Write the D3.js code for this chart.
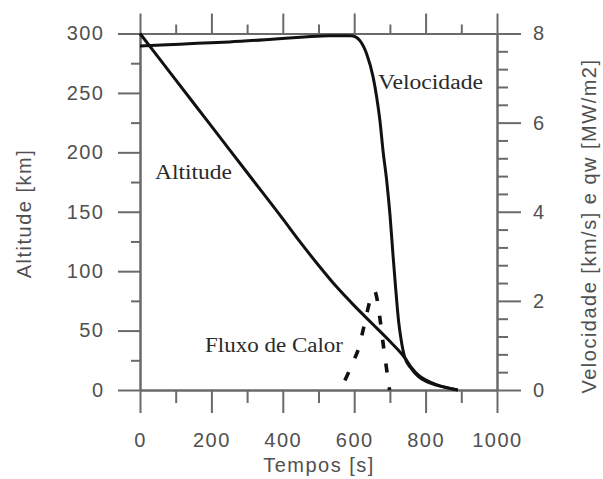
<!DOCTYPE html>
<html>
<head>
<meta charset="utf-8">
<script src="https://cdn.jsdelivr.net/npm/d3@7"></script>
<style>
  body { margin: 0; background: #fff; }
  svg { display: block; }
  .axis path, .axis line { stroke: #6a6a6a; stroke-width: 2; }
  .axis text { fill: #505050; font-family: "Liberation Sans", Arial, sans-serif; font-size: 20px; letter-spacing: 1.5px; }
  .title { fill: #505050; font-family: "Liberation Sans", Arial, sans-serif; font-size: 20px; letter-spacing: 1.5px; }
  .note { fill: #2a2a2a; font-family: "Liberation Serif", "Times New Roman", serif; font-size: 20px; }
</style>
</head>
<body>
<svg id="chart" width="603" height="479"></svg>
<script>
// Tick values
const timeTicks = [0, 200, 400, 600, 800, 1000];
const timeMinorTicks = [100, 300, 500, 700, 900];
const altitudeTicks = [0, 50, 100, 150, 200, 250, 300];
const altitudeMinorTicks = [25, 75, 125, 175, 225, 275];
const speedTicks = [0, 2, 4, 6, 8];
const speedMinorTicks = [0.4, 0.8, 1.2, 1.6, 2.4, 2.8, 3.2, 3.6, 4.4, 4.8, 5.2, 5.6, 6.4, 6.8, 7.2, 7.6];

// Altitude [km] over time [s]
const altitudeTime = [0, 100, 200, 300, 400, 450, 500, 550, 600, 650, 700, 742, 760, 780, 800, 830, 860, 890];
const altitudeKm   = [300, 261, 222, 183, 144, 124, 105, 87, 71, 56, 41, 27, 19, 12.5, 8.5, 4.5, 2, 0];

// Velocity [km/s] over time [s]
const speedTime = [0, 60, 160, 250, 370, 460, 530, 590, 605, 616, 635, 653, 663, 672, 681, 691, 700, 709, 716, 724, 732, 742, 760, 780, 800, 830, 860, 890];
const speedKms  = [7.72, 7.74, 7.78, 7.81, 7.87, 7.92, 7.95, 7.95, 7.92, 7.84, 7.54, 7.02, 6.57, 6.05, 5.35, 4.7, 3.95, 3.0, 2.3, 1.57, 1.1, 0.72, 0.48, 0.3, 0.2, 0.11, 0.05, 0];

// Heat flux qw [MW/m2] over time [s]
const heatTime = [560, 580, 595, 613, 628, 646, 657, 665, 672, 683, 693, 699];
const heatFlux = [0, 0.32, 0.6, 0.95, 1.45, 2.05, 2.22, 2.0, 1.61, 0.92, 0.34, 0];

const svg = d3.select("#chart");

const x = d3.scaleLinear().domain([0, 1000]).range([140, 497]);
const yAlt = d3.scaleLinear().domain([0, 300]).range([390, 33.5]);
const ySpeed = d3.scaleLinear().domain([0, 8]).range([390, 33.5]);

const noLabel = () => "";

function addAxis(axis, transform) {
  return svg.append("g").attr("class", "axis").attr("transform", transform).call(axis);
}

// bottom axis: long labelled ticks plus short minor ticks
addAxis(d3.axisBottom(x).tickValues(timeTicks).tickSize(23).tickSizeOuter(0).tickPadding(20).tickFormat(d3.format("d")), "translate(0,390)");
addAxis(d3.axisBottom(x).tickValues(timeMinorTicks).tickSize(13).tickSizeOuter(0).tickFormat(noLabel), "translate(0,390)");

// top axis: ticks only
addAxis(d3.axisTop(x).tickValues(timeTicks).tickSize(20).tickSizeOuter(0).tickFormat(noLabel), "translate(0,33.5)");
addAxis(d3.axisTop(x).tickValues(timeMinorTicks).tickSize(9).tickSizeOuter(0).tickFormat(noLabel), "translate(0,33.5)");

// left axis: altitude
addAxis(d3.axisLeft(yAlt).tickValues(altitudeTicks).tickSize(22).tickSizeOuter(0).tickPadding(13.5).tickFormat(d3.format("d")), "translate(140,0)");
addAxis(d3.axisLeft(yAlt).tickValues(altitudeMinorTicks).tickSize(9).tickSizeOuter(0).tickFormat(noLabel), "translate(140,0)");

// right axis: velocity and heat flux
addAxis(d3.axisRight(ySpeed).tickValues(speedTicks).tickSize(24).tickSizeOuter(0).tickPadding(12).tickFormat(d3.format("d")), "translate(497,0)");
addAxis(d3.axisRight(ySpeed).tickValues(speedMinorTicks).tickSize(11).tickSizeOuter(0).tickFormat(noLabel), "translate(497,0)");

// axis titles
svg.append("text").attr("class", "title")
  .attr("transform", "translate(31,213.5) rotate(-90)")
  .attr("text-anchor", "middle")
  .text("Altitude [km]");

svg.append("text").attr("class", "title")
  .attr("transform", "translate(596,226) rotate(-90)")
  .attr("text-anchor", "middle")
  .text("Velocidade [km/s] e qw [MW/m2]");

svg.append("text").attr("class", "title")
  .attr("x", 319).attr("y", 472)
  .attr("text-anchor", "middle")
  .text("Tempos [s]");

// curves
const altLine = d3.line().x((d, i) => x(altitudeTime[i])).y(d => yAlt(d)).curve(d3.curveMonotoneX);
const speedLine = d3.line().x((d, i) => x(speedTime[i])).y(d => ySpeed(d)).curve(d3.curveMonotoneX);
const heatLine = d3.line().x((d, i) => x(heatTime[i])).y(d => ySpeed(d)).curve(d3.curveMonotoneX);

svg.append("path").attr("d", altLine(altitudeKm))
  .attr("fill", "none").attr("stroke", "#111").attr("stroke-width", 3);

svg.append("path").attr("d", speedLine(speedKms))
  .attr("fill", "none").attr("stroke", "#111").attr("stroke-width", 3);

svg.append("path").attr("d", heatLine(heatFlux))
  .attr("fill", "none").attr("stroke", "#111").attr("stroke-width", 3.6)
  .attr("stroke-dasharray", "9,15").attr("stroke-dashoffset", 13);

// curve names
svg.append("text").attr("class", "note").attr("x", 378).attr("y", 89)
  .attr("textLength", 105).attr("lengthAdjust", "spacingAndGlyphs").text("Velocidade");
svg.append("text").attr("class", "note").attr("x", 155).attr("y", 179)
  .attr("textLength", 77).attr("lengthAdjust", "spacingAndGlyphs").text("Altitude");
svg.append("text").attr("class", "note").attr("x", 205).attr("y", 352)
  .attr("textLength", 138).attr("lengthAdjust", "spacingAndGlyphs").text("Fluxo de Calor");
</script>
</body>
</html>
